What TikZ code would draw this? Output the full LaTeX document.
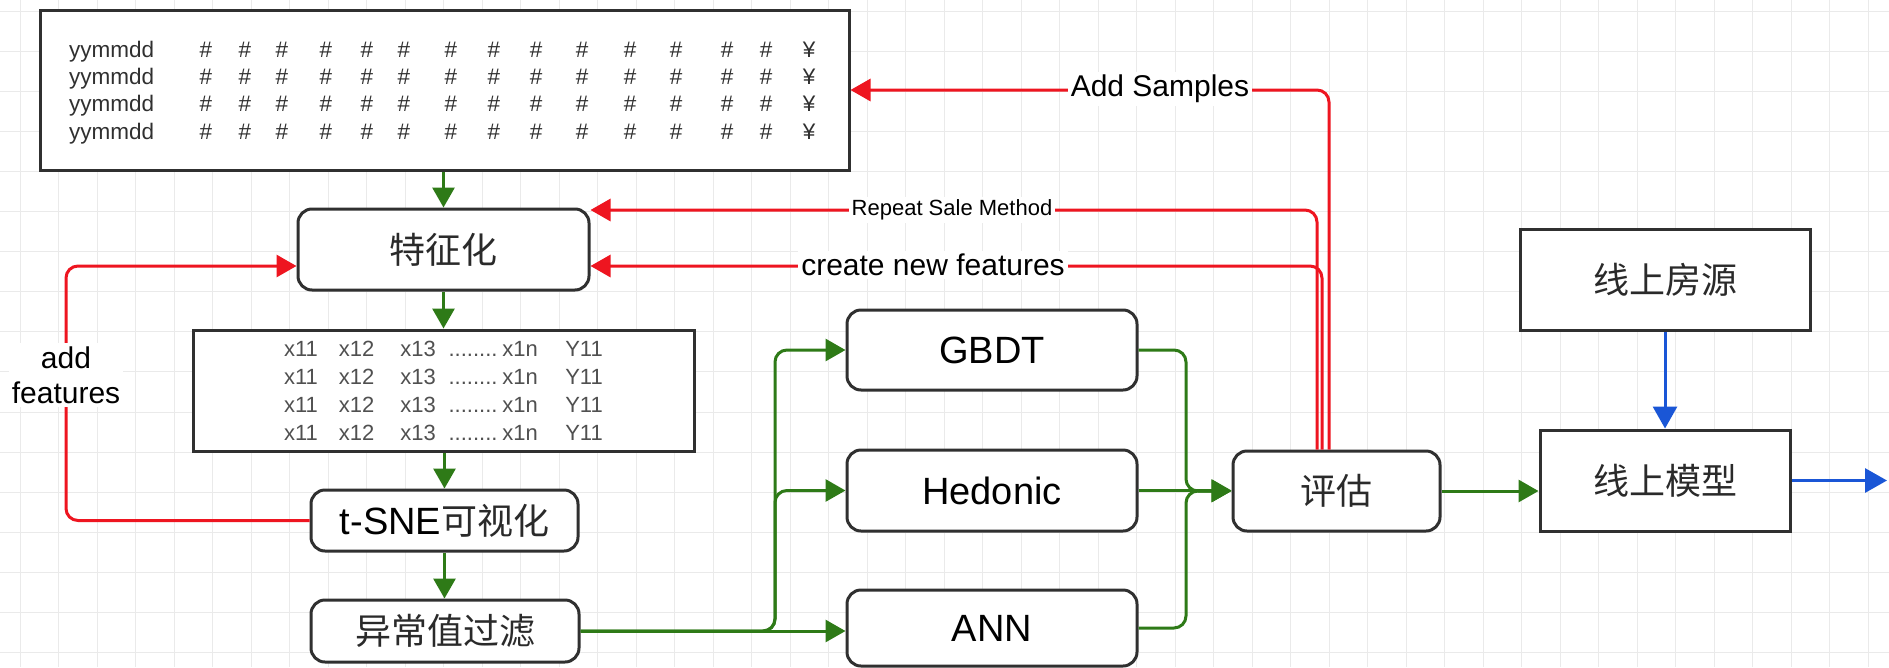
\documentclass[tikz,border=0pt]{standalone}
\usepackage{fontspec}
\setmainfont{Liberation Sans}
\newfontfamily\cjk{Noto Sans CJK SC}
\usetikzlibrary{arrows.meta}
\definecolor{gcol}{HTML}{2E7A17}
\definecolor{rcol}{HTML}{EE1520}
\definecolor{bcol}{HTML}{1A56D6}
\definecolor{boxc}{HTML}{303030}
\definecolor{gridc}{HTML}{EAEAEA}
\definecolor{txtg}{HTML}{505050}
\definecolor{cjkc}{HTML}{2A2A2A}
\newcommand\cjkt{\cjk\color{cjkc}\fontsize{36}{40}\selectfont}
\newcommand\latt{\fontsize{38}{42}\selectfont}
\begin{document}
\begin{tikzpicture}[x=1pt,y=-1pt,
  rbox/.style={draw=boxc, line width=3pt, rounded corners=14pt, fill=white, inner sep=0pt},
  sbox/.style={draw=boxc, line width=3pt, fill=white, inner sep=0pt},
  gridl/.style={draw=gridc, line width=1pt},
  garr/.style={draw=gcol, line width=3pt, -{Triangle[length=20pt,width=22pt]}},
  rarr/.style={draw=rcol, line width=3pt, -{Triangle[length=20pt,width=22pt]}},
  barr/.style={draw=bcol, line width=3pt, -{Triangle[length=22pt,width=24pt]}},
  tt/.style={inner sep=0pt, text=boxc, text height=16pt, text depth=0pt, font=\fontsize{22.5}{24}\selectfont},
  xt/.style={inner sep=0pt, text=txtg, text height=16pt, text depth=0pt, font=\fontsize{22}{24}\selectfont},
  lbl/.style={fill=white, inner sep=3pt, text=black}
]
\useasboundingbox (0,0) rectangle (1889,667);
\fill[white] (0,0) rectangle (1889,667);
% grid
\foreach \k in {0,...,48} \draw[gridl] (20.3+38.5*\k,0) -- (20.3+38.5*\k,667);
\foreach \k in {0,...,16} \draw[gridl] (0,11+40.1*\k) -- (1889,11+40.1*\k);

% boxes
\node[sbox, minimum width=809pt, minimum height=160pt] (top) at (444.5,90) {};
\node[rbox, minimum width=291pt, minimum height=81pt] (feat) at (443.5,249.5) {\cjkt 特征化};
\node[sbox, minimum width=501pt, minimum height=121pt] (xb) at (443.5,390.5) {};
\node[rbox, minimum width=267pt, minimum height=61pt] (tsne) at (444.5,520.5) {{\latt t-SNE}{\cjkt 可视化}};
\node[rbox, minimum width=268pt, minimum height=62pt] (filt) at (445,631) {\cjkt 异常值过滤};
\node[rbox, minimum width=290pt, minimum height=80pt] (gbdt) at (992,350) {\latt GBDT};
\node[rbox, minimum width=290pt, minimum height=81pt] (hed) at (992,490.5) {\latt Hedonic};
\node[rbox, minimum width=290pt, minimum height=76pt] (ann) at (992,628) {\latt ANN};
\node[rbox, minimum width=207pt, minimum height=80pt] (eval) at (1336.5,491) {\cjkt 评估};
\node[sbox, minimum width=250pt, minimum height=101pt] (model) at (1665,480.5) {\cjkt 线上模型};
\node[sbox, minimum width=290pt, minimum height=101pt] (src) at (1665,279.5) {\cjkt 线上房源};

% top box rows
\foreach \r [count=\i] in {49,76,103.5,131} {
  \node[tt, anchor=west] (ym\i) at (69,\r) {yymmdd};
  \foreach \h [count=\j] in {206,245,282,326,367,404,451,494,536,582,630,676,727,766}
    \node[tt] (h\i-\j) at (\h,\r) {\#};
  \node[tt] (yen\i) at (809,\r) {¥};
}
% feature rows
\foreach \r [count=\i] in {348,376,404,432} {
  \node[xt] (xa\i) at (301,\r) {x11};
  \node[xt] (xc\i) at (356.5,\r) {x12};
  \node[xt] (xd\i) at (418,\r) {x13};
  \node[xt] (xe\i) at (473,\r) {........};
  \node[xt] (xf\i) at (520,\r) {x1n};
  \node[xt] (xg\i) at (584,\r) {Y11};
}

% helper coordinates
\coordinate (bl) at (775,0);
\coordinate (br) at (1186,0);
\coordinate (af) at (66,0);
\coordinate (out) at (1887,480.5);

% green flow
\draw[garr] (feat.north |- top.south) -- (feat.north);
\draw[garr] (feat.south) -- (feat.south |- xb.north);
\draw[garr] (tsne.north |- xb.south) -- (tsne.north);
\draw[garr] (tsne.south) -- (tsne.south |- filt.north);
\draw[garr, rounded corners=12pt] (filt.east) -- (bl |- filt.east) -- (bl |- gbdt.west) -- (gbdt.west);
\draw[garr, rounded corners=12pt] (filt.east) -- (bl |- filt.east) -- (bl |- hed.west) -- (hed.west);
\draw[garr] (filt.east) -- (filt.east -| ann.west);
\draw[garr, rounded corners=12pt] (gbdt.east) -- (br |- gbdt.east) -- (br |- eval.west) -- (eval.west);
\draw[garr] (hed.east) -- (hed.east -| eval.west);
\draw[garr, rounded corners=12pt] (ann.east) -- (br |- ann.east) -- (br |- eval.west) -- (eval.west);
\draw[garr] (eval.east) -- (eval.east -| model.west);

% blue
\draw[barr] (src.south) -- (model.north);
\draw[barr] (model.east) -- (out);

% red feedback
\draw[rarr, rounded corners=12pt] ([xshift=-7.5pt]eval.north) |- (top.east);
\draw[rarr, rounded corners=12pt] ([xshift=-19.5pt]eval.north) |- ([yshift=39.5pt]feat.east);
\draw[rarr, rounded corners=12pt] ([xshift=-14.5pt]eval.north) |- ([yshift=-16.5pt]feat.east);
\draw[rarr, rounded corners=12pt] (tsne.west) -- (af |- tsne.west) |- ([yshift=-16.5pt]feat.west);

% labels
\node[lbl, font=\fontsize{30}{34}\selectfont] (lAdd) at (1160,89) {Add Samples};
\node[lbl, font=\fontsize{22}{24}\selectfont] (lRep) at (952,210) {Repeat Sale Method};
\node[lbl, font=\fontsize{30}{34}\selectfont] (lNew) at (933,265) {create new features};
\node[lbl, font=\fontsize{30}{35}\selectfont, align=center] (lAF) at (66,375) {add\\features};
\end{tikzpicture}
\end{document}
